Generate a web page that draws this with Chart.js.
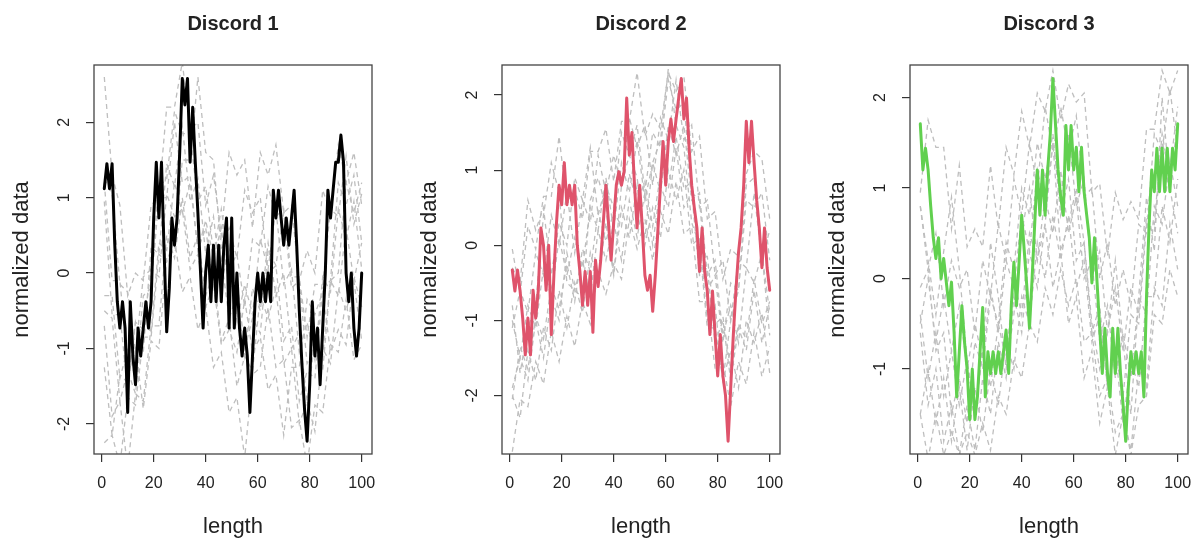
<!DOCTYPE html>
<html>
<head>
<meta charset="utf-8">
<script src="https://cdn.jsdelivr.net/npm/chart.js@4"></script>
<style>
html, body { margin: 0; padding: 0; background: #fff; overflow: hidden; width: 1199px; height: 545px; }
canvas { position: absolute; top: 0; }
</style>
</head>
<body>
<canvas id="c1" width="400" height="545" style="left:0px"></canvas>
<canvas id="c2" width="400" height="545" style="left:408px"></canvas>
<canvas id="c3" width="400" height="545" style="left:816px"></canvas>
<script>
// index along the series
const xIdx = Array.from({length: 100}, (_, i) => i + 1);
const grayIdx = [1,4,7,10,13,16,19,22,25,28,31,34,37,40,43,46,49,52,55,58,61,64,67,70,73,76,79,82,85,88,91,94,97,100];

const titles = ['Discord 1', 'Discord 2', 'Discord 3'];
const xTicks = [0, 20, 40, 60, 80, 100];
const yTicks1 = [-2, -1, 0, 1, 2];
const yTicks2 = [-2, -1, 0, 1, 2];
const yTicks3 = [-1, 0, 1, 2];
const yRange1 = [-2.40, 2.76];
const yRange2 = [-2.78, 2.40];
const yRange3 = [-1.94, 2.36];

const discord1 = [
  1.12, 1.45, 1.12, 1.45, 0.4, -0.38, -0.73, -0.38, -0.73, -1.85,
  -0.38, -1.1, -1.48, -0.73, -1.1, -0.73, -0.38, -0.73, -0.38, 0.73,
  1.47, 0.73, 1.47, 0.3, -0.78, -0.2, 0.73, 0.37, 0.73, 1.6,
  2.58, 2.23, 2.58, 1.47, 2.2, 1.47, 0.8, 0.02, -0.73, 0.02,
  0.37, -0.38, 0.37, -0.38, 0.37, -0.38, 0.37, 0.73, -0.73, 0.73,
  -0.73, 0.0, -0.73, -1.1, -0.73, -1.1, -1.85, -1.1, -0.38, 0.0,
  -0.38, 0.0, -0.38, 0.0, -0.38, 1.1, 0.73, 1.1, 0.73, 0.37,
  0.73, 0.37, 0.73, 1.1, 0.37, -0.5, -1.2, -1.8, -2.23, -1.48,
  -0.38, -1.1, -0.73, -1.48, -0.73, 0.0, 1.1, 0.73, 1.1, 1.47,
  1.47, 1.83, 1.47, 0.0, -0.38, 0.0, -0.73, -1.1, -0.73, 0.0
];
const discord2 = [
  -0.33, -0.61, -0.33, -0.61, -0.97, -1.46, -0.97, -1.46, -0.6, -0.97,
  -0.6, 0.23, 0.0, -0.6, 0.0, -1.19, -0.4, 0.3, 0.8, 0.54,
  1.1, 0.54, 0.8, 0.54, 0.8, 0.0, -0.35, -0.8, -0.35, -0.8,
  -0.35, -1.16, -0.2, -0.55, -0.2, 0.3, 0.8, 0.3, -0.2, 0.3,
  0.8, 0.98, 0.8, 0.98, 1.96, 1.2, 1.5, 0.8, 0.23, 0.8,
  0.23, -0.4, -0.6, -0.4, -0.88, -0.4, 0.2, 0.8, 1.38, 0.8,
  1.38, 1.68, 1.38, 1.68, 1.96, 2.22, 1.68, 1.96, 1.3, 0.8,
  0.5, 0.23, -0.35, 0.23, -0.35, -0.61, -1.19, -0.61, -1.19, -1.74,
  -1.19, -1.74, -2.0, -2.61, -1.9, -1.2, -0.6, -0.1, 0.23, 0.8,
  1.65, 1.1, 1.65, 1.1, 0.6, 0.23, -0.3, 0.23, -0.3, -0.6
];
const discord3 = [
  1.71, 1.2, 1.44, 1.2, 0.8, 0.45, 0.22, 0.45, 0.0, 0.22,
  -0.04, -0.3, -0.04, -0.6, -1.31, -0.81, -0.3, -0.7, -1.0, -1.56,
  -1.0, -1.56, -1.3, -0.8, -0.32, -1.31, -0.81, -1.05, -0.81, -1.05,
  -0.81, -1.05, -0.81, -0.57, -1.05, -0.3, 0.18, -0.3, 0.18, 0.7,
  0.3, -0.1, -0.55, 0.0, 0.6, 1.2, 0.7, 1.2, 0.7, 1.2,
  1.6, 2.21, 1.7, 1.2, 0.9, 0.7, 1.69, 1.2, 1.69, 1.2,
  1.45, 0.96, 1.45, 0.96, 0.7, 0.45, -0.05, 0.45, -0.05, -0.55,
  -1.05, -0.55, -1.05, -1.31, -0.55, -1.05, -0.55, -1.05, -1.4, -1.8,
  -1.2, -0.81, -1.05, -0.81, -1.05, -0.81, -1.31, -0.2, 0.6, 1.2,
  0.96, 1.44, 0.96, 1.44, 0.96, 1.44, 0.96, 1.44, 1.2, 1.71
];

// nearest neighbours (grey dashed)
const neighbours1 = [
  [2.6, 1.3, 0.9, -0.3, 0.0, -0.1, 0.9, 1.0, 2.2, 2.2, 2.8, 1.9, 2.0, 0.9, 1.3, 0.5, 1.6, 1.3, 1.5, 0.6, 1.6, 1.3, 1.7, 0.8, 0.9, -0.1, 0.3, 0.0, 1.1, 0.8, 1.7, 1.2, 1.6, 0.9],
  [1.25, 1.05, -0.15, -0.25, -1.05, -0.05, 0.05, 1.15, 1.25, 2.15, 1.85, 1.85, 0.95, 1.15, 0.25, 0.85, 0.05, 0.25, -0.45, 0.45, 0.35, 1.15, 0.75, 0.85, -0.05, -0.05, -0.85, -0.15, -0.15, 0.85, 0.75, 1.55, 0.65, 1.05],
  [0.95, -0.55, -0.55, -1.55, -0.65, -1.05, 0.35, 0.25, 1.45, 1.15, 1.95, 0.95, 1.25, 0.25, 0.75, -0.15, 0.35, -0.65, -0.15, -0.55, 0.45, 0.05, 0.85, -0.15, 0.05, -1.05, -0.65, -1.15, -0.05, -0.25, 0.85, 0.45, 0.95, 0.05],
  [-0.5, -0.6, -1.7, -1.3, -1.6, -0.6, -0.8, 0.4, 0.3, 1.2, 0.8, 1.2, 0.3, 0.6, -0.2, 0.2, -0.6, -0.3, -1.1, -0.2, -0.5, 0.4, -0.3, 0.0, -1.0, -0.8, -1.7, -0.9, -1.1, -0.1, -0.3, 0.6, -0.1, 0.4],
  [-0.7, -1.9, -1.7, -2.6, -1.6, -1.7, -0.7, -0.7, 0.5, 0.2, 1.0, 0.2, 0.5, -0.3, 0.0, -0.9, -0.6, -1.5, -1.1, -1.3, -0.3, -0.6, -0.2, -1.2, -1.0, -2.0, -1.7, -2.1, -1.0, -1.2, -0.2, -0.5, -0.1, -0.9],
  [-2.25, -2.15, -2.55, -1.65, -1.75, -0.85, -0.85, 0.25, 0.15, 0.45, -0.25, -0.05, -0.75, -0.45, -1.25, -1.05, -1.85, -1.65, -2.45, -1.35, -1.25, -0.45, -1.25, -1.15, -2.05, -1.95, -2.55, -1.75, -1.85, -0.95, -1.05, -0.35, -1.15, -0.95],
  [1.2, -0.1, -0.1, -1.2, -1.0, -1.8, -0.9, -1.0, 0.2, 0.3, 1.5, 1.5, 2.6, 1.6, 1.5, 0.3, 0.6, 0.2, 1.1, 0.8, 1.0, 0.0, 0.1, -0.9, -0.7, -1.7, -1.3, -1.4, -0.2, -0.1, 1.2, 0.9, 1.3, 0.4],
  [-0.3, -0.3, -1.4, -1.0, -1.4, -0.3, -0.2, 1.0, 1.0, 2.0, 1.2, 1.3, 0.3, 0.7, 0.2, 0.6, -0.2, -0.1, -1.0, -0.6, -0.8, 0.3, 0.1, 0.8, -0.2, -0.1, -1.2, -1.0, -1.3, -0.1, 0.0, 1.2, 0.8, 1.2],
  [-1.25, -2.15, -1.35, -1.45, -0.65, -0.75, 0.05, -0.05, 1.05, 0.75, 0.85, 0.05, 0.25, -0.45, -0.15, -0.95, -0.75, -1.05, -0.35, -1.05, -0.85, -1.55, -1.35, -2.15, -1.25, -1.25, -0.35, -0.55, -0.25, -1.05, -0.75, -0.95, -0.05, -0.45]
];
const neighbours2 = [
  [-0.05, -0.65, 0.25, -0.05, 0.65, 0.65, 1.45, 0.55, 0.75, 0.35, 1.25, 1.25, 1.55, 0.85, 1.65, 1.65, 2.3, 1.45, 1.75, 1.55, 2.3, 2.05, 2.25, 1.25, 1.45, 0.35, 0.45, -0.45, -0.05, -0.15, 0.95, 1.25, 1.15, 0.35],
  [-1.1, -0.6, -0.9, -0.1, -0.4, 0.4, 0.0, 0.7, -0.1, 0.6, 0.3, 1.2, 0.7, 1.2, 0.8, 1.7, 1.3, 1.6, 0.8, 1.7, 1.4, 2.2, 1.4, 1.6, 0.5, 0.6, -0.4, -0.2, -1.0, -0.2, -0.3, 0.7, -0.2, 0.2],
  [-1.0, -1.5, -0.8, -1.1, -0.3, -0.7, 0.1, -0.4, 0.1, -0.3, 0.5, 0.2, 0.9, 0.2, 1.1, 0.7, 1.4, 0.6, 1.1, 0.7, 1.6, 1.2, 1.6, 0.6, 0.7, -0.4, -0.2, -1.2, -0.8, -1.3, -0.3, -0.5, -0.1, -0.9],
  [-2.05, -1.35, -1.65, -0.95, -1.25, -0.55, -0.85, -0.25, -0.75, -0.05, -0.35, 0.45, 0.05, 0.45, 0.25, 0.95, 0.55, 0.85, 0.25, 0.95, 0.75, 1.45, 0.75, 0.85, -0.15, -0.15, -1.05, -0.95, -1.65, -1.05, -1.25, -0.45, -1.05, -0.75],
  [-2.0, -2.3, -1.4, -1.8, -1.1, -1.4, -0.6, -1.1, -0.5, -0.9, -0.1, -0.5, 0.3, -0.4, 0.5, 0.1, 0.8, 0.0, 0.5, 0.1, 1.0, 0.6, 1.0, 0.0, 0.1, -1.0, -0.8, -1.8, -1.4, -1.9, -1.0, -1.3, -0.9, -1.7],
  [-2.75, -2.05, -2.15, -1.55, -1.85, -1.15, -1.55, -0.95, -1.35, -0.75, -1.05, -0.35, -0.65, -0.25, -0.45, 0.35, -0.05, 0.35, -0.2, 0.45, 0.15, 0.85, 0.15, 0.25, -0.75, -0.75, -1.65, -1.55, -2.15, -1.55, -1.85, -1.15, -1.75, -1.35],
  [-0.8, -1.7, -1.1, -0.8, 0.4, 1.1, 0.7, -0.5, -0.6, -0.7, 0.6, 0.9, 0.5, -0.4, 0.8, 1.2, 0.9, 0.1, 1.1, 1.4, 2.35, 1.6, 1.3, 0.3, 0.0, -1.1, -1.1, -1.8, -1.0, -0.6, 0.8, 0.9, -0.1, -1.2],
  [-0.3, -0.5, 0.6, 0.2, 0.5, -0.4, 0.3, 0.0, 0.9, 0.6, 1.3, 0.4, 0.8, 0.5, 1.5, 1.2, 1.6, 0.7, 1.5, 1.3, 2.2, 1.8, 1.9, 0.7, 0.6, -0.6, -0.4, -1.3, -0.5, -0.6, 0.6, 0.5, 0.7, -0.2],
  [-1.9, -1.5, -1.8, -1.0, -1.5, -0.7, -1.0, -0.1, -0.6, -0.2, -0.7, 0.2, -0.2, 0.3, -0.2, 0.6, 0.1, 0.7, 0.0, 0.8, 0.5, 1.3, 0.5, 0.7, -0.4, -0.3, -1.3, -1.0, -1.8, -1.1, -1.4, -0.6, -1.3, -0.8]
];
const neighbours3 = [
  [0.95, 1.75, 1.45, 1.45, 0.55, 1.25, 0.35, 0.55, 0.35, 1.25, 0.55, 1.45, 1.15, 1.85, 1.45, 2.05, 1.85, 2.3, 1.75, 2.15, 1.95, 2.05, 0.95, 1.05, 0.25, 0.95, 0.65, 0.85, 0.65, 1.65, 1.65, 2.3, 2.05, 2.3],
  [0.8, 0.1, 0.5, -0.3, 0.2, -0.1, 0.1, -0.6, 0.2, -0.2, 0.6, 0.2, 1.1, 0.7, 1.5, 1.0, 1.9, 1.4, 1.9, 1.4, 1.8, 0.9, 1.0, 0.0, 0.4, -0.3, 0.1, -0.3, 0.6, 0.5, 1.6, 1.4, 2.1, 1.4],
  [-0.5, 0.0, -0.7, -0.2, -0.8, -0.3, -1.0, -0.5, -0.9, -0.1, -0.6, 0.2, -0.1, 0.7, 0.3, 1.2, 0.8, 1.5, 0.9, 1.6, 0.8, 1.1, 0.0, 0.3, -0.6, -0.1, -0.8, -0.1, -0.4, 0.7, 0.6, 1.6, 1.1, 1.7],
  [-0.4, -1.1, -0.6, -1.3, -0.8, -1.4, -0.9, -1.5, -0.8, -1.2, -0.5, -0.9, 0.0, -0.4, 0.5, 0.2, 0.9, 0.5, 1.2, 0.5, 0.9, 0.0, 0.2, -0.7, -0.3, -1.1, -0.6, -1.1, -0.2, -0.4, 0.8, 0.6, 1.3, 0.8],
  [-1.5, -1.0, -1.6, -1.1, -1.8, -1.2, -1.9, -1.2, -1.7, -1.0, -1.4, -0.7, -1.0, -0.2, -0.5, 0.4, 0.0, 0.7, 0.2, 0.7, -0.1, 0.2, -0.7, -0.4, -1.2, -0.8, -1.6, -0.9, -1.2, -0.2, -0.2, 0.8, 0.4, 1.1],
  [-1.5, -2.0, -1.5, -1.95, -1.7, -1.95, -1.7, -1.95, -1.6, -1.9, -1.3, -1.5, -0.9, -1.1, -0.5, -0.7, -0.1, -0.4, 0.1, -0.3, 0.0, -0.7, -0.6, -1.3, -1.1, -1.7, -1.5, -1.95, -1.4, -1.3, -0.4, -0.5, 0.1, -0.2],
  [0.8, 0.2, -0.4, 0.3, 0.9, 0.1, -0.9, -1.5, -0.8, 0.4, -0.2, -1.0, -0.4, 0.5, 1.0, 0.2, 0.6, 1.5, 0.3, 0.6, 1.0, 0.4, -0.5, -1.0, -0.6, 0.2, -0.7, -1.5, -0.2, 0.9, 0.3, 2.0, 1.0, 0.5],
  [-0.1, 0.1, -0.8, -0.6, -1.5, -1.1, -1.6, -0.7, -1.0, -0.2, -0.5, 0.4, 0.1, 1.0, 0.7, 1.5, 1.1, 1.6, 0.7, 1.1, 0.2, 0.4, -0.6, -0.3, -1.2, -0.8, -1.3, -0.4, -0.5, 0.6, 0.5, 1.5, 1.2, 1.9],
  [-0.6, -1.4, -1.0, -1.8, -1.4, -1.95, -1.4, -1.9, -1.1, -1.5, -0.7, -1.1, -0.2, -0.6, 0.3, -0.1, 0.6, -0.1, 0.3, -0.5, -0.2, -1.1, -0.8, -1.6, -1.2, -1.95, -1.5, -1.9, -1.0, -1.2, -0.1, -0.3, 0.6, 0.1]
];

const FONT = '"Liberation Sans", Arial, Helvetica, sans-serif';

// box, title and rotated y labels the way base R draws them
const rFrame = {
  id: 'rFrame',
  afterDraw(chart, args, opts) {
    const {ctx, chartArea: a} = chart;
    const y = chart.scales.y;
    ctx.save();
    ctx.strokeStyle = '#444';
    ctx.lineWidth = 1.3;
    ctx.strokeRect(a.left, a.top, a.right - a.left, a.bottom - a.top);
    ctx.fillStyle = '#222';
    ctx.textAlign = 'center';
    ctx.textBaseline = 'middle';
    ctx.font = 'bold 20px ' + FONT;
    ctx.fillText(opts.title, (a.left + a.right) / 2, 24);
    ctx.font = '16px ' + FONT;
    y.ticks.forEach(t => {
      ctx.save();
      ctx.translate(a.left - 29, y.getPixelForValue(t.value));
      ctx.rotate(-Math.PI / 2);
      ctx.fillText(String(t.value), 0, 0);
      ctx.restore();
    });
    ctx.restore();
  }
};

function makeChart(id, title, main, color, greys, yRange, yTicks) {
  const datasets = [{
    data: main.map((v, i) => ({x: xIdx[i], y: v})),
    borderColor: color,
    borderWidth: 3,
    borderJoinStyle: 'round',
    borderCapStyle: 'round',
    pointRadius: 0,
    tension: 0
  }];
  greys.forEach(g => {
    datasets.push({
      data: g.map((v, i) => ({x: grayIdx[i], y: v})),
      borderColor: '#BEBEBE',
      borderWidth: 1.3,
      borderDash: [5, 4],
      pointRadius: 0,
      tension: 0
    });
  });
  return new Chart(document.getElementById(id).getContext('2d'), {
    type: 'line',
    data: {datasets},
    plugins: [rFrame],
    options: {
      responsive: false,
      animation: false,
      layout: {padding: {left: 0, right: 28, top: 65, bottom: 0}},
      plugins: {
        legend: {display: false},
        tooltip: {enabled: false},
        rFrame: {title}
      },
      scales: {
        x: {
          type: 'linear',
          min: -2.96,
          max: 103.96,
          afterBuildTicks: s => { s.ticks = xTicks.map(v => ({value: v})); },
          afterFit: s => { s.height = 91; },
          border: {display: false},
          grid: {drawOnChartArea: false, tickLength: 8, tickColor: '#333', lineWidth: 1.2},
          ticks: {color: '#222', font: {size: 16, family: FONT}, padding: 12, autoSkip: false, maxRotation: 0},
          title: {display: true, text: 'length', color: '#222', font: {size: 22, family: FONT}, padding: {top: 0, bottom: 5}}
        },
        y: {
          min: yRange[0],
          max: yRange[1],
          afterBuildTicks: s => { s.ticks = yTicks.map(v => ({value: v})); },
          afterFit: s => { s.width = 94; },
          border: {display: false},
          grid: {drawOnChartArea: false, tickLength: 8, tickColor: '#333', lineWidth: 1.2},
          ticks: {display: false},
          title: {display: true, text: 'normalized data', color: '#222', font: {size: 22, family: FONT}, padding: {top: 9, bottom: 0}}
        }
      }
    }
  });
}

makeChart('c1', titles[0], discord1, '#000000', neighbours1, yRange1, yTicks1);
makeChart('c2', titles[1], discord2, '#DF536B', neighbours2, yRange2, yTicks2);
makeChart('c3', titles[2], discord3, '#61D04F', neighbours3, yRange3, yTicks3);
</script>
</body>
</html>
